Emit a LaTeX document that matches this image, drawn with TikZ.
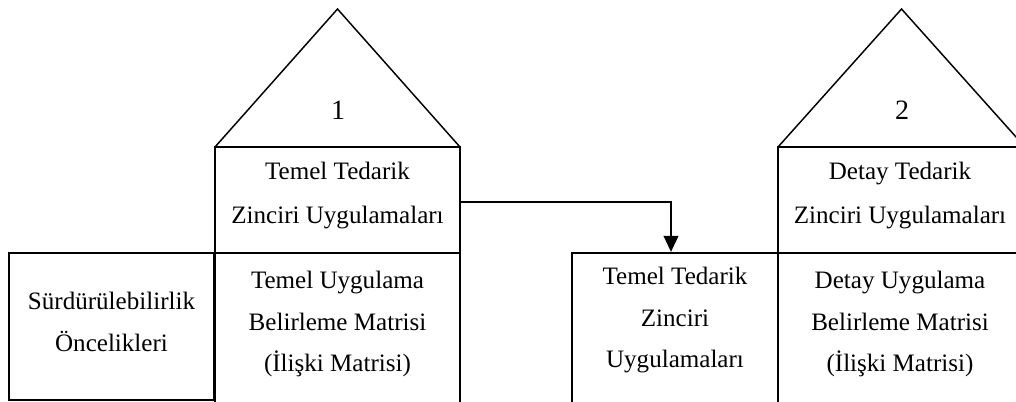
\documentclass[tikz,border=0pt]{standalone}
\usepackage{fontspec}
\setmainfont{Liberation Serif}
\usetikzlibrary{arrows.meta}
\begin{document}
\begin{tikzpicture}[x=0.75pt,y=-0.75pt,
  boxline/.style={draw=black,line width=1.7pt,rectangle,inner sep=0pt},
  roofline/.style={draw=black,line width=1.1pt,line join=miter},
  txt/.style={align=center,font=\fontsize{18.8}{31}\selectfont,inner sep=0pt},
  toptxt/.style={align=center,font=\fontsize{18.8}{33}\selectfont,inner sep=0pt},
  numtxt/.style={font=\fontsize{21}{24}\selectfont,inner sep=0pt},
  flow/.style={draw=black,line width=1.4pt,-{Triangle[length=12pt,width=11pt]}}]
\useasboundingbox (0,0) rectangle (1016,401);
\clip (0,0) rectangle (1016,401);

% left house: roof, upper room and matrix
\coordinate (r1l) at (215,147);
\coordinate (r1r) at (460,147);
\coordinate (r1a) at (337.5,9);
\draw[roofline] (r1l) -- (r1a) -- (r1r);
\node[numtxt] (n1) at (338,110) {1};
\node[boxline,minimum width=245*0.75pt,minimum height=106*0.75pt] (top1) at (337.5,200) {};
\node[toptxt] (top1t) at (337.5,195) {Temel Tedarik\\Zinciri Uygulamaları};
\node[boxline,minimum width=245*0.75pt,minimum height=170*0.75pt] (mat1) at (337.5,338) {};
\node[txt] (mat1t) at (337.5,324) {Temel Uygulama\\Belirleme Matrisi\\(İlişki Matrisi)};

% priorities on the left wall
\node[boxline,minimum width=205*0.75pt,minimum height=147*0.75pt] (prio) at (111.5,326.5) {};
\node[txt] (priot) at (111.5,322) {Sürdürülebilirlik\\Öncelikleri};

% input of the second house
\node[boxline,minimum width=206*0.75pt,minimum height=170*0.75pt] (tem2) at (675,338) {};
\node[txt] (tem2t) at (675,320) {Temel Tedarik\\Zinciri\\Uygulamaları};

% right house
\coordinate (r2l) at (778,147);
\coordinate (r2r) at (1025,147);
\coordinate (r2a) at (901.5,9);
\draw[roofline] (r2l) -- (r2a) -- (r2r);
\node[numtxt] (n2) at (902,110) {2};
\node[boxline,minimum width=247*0.75pt,minimum height=106*0.75pt] (top2) at (901.5,200) {};
\node[toptxt] (top2t) at (900,195) {Detay Tedarik\\Zinciri Uygulamaları};
\node[boxline,minimum width=247*0.75pt,minimum height=170*0.75pt] (mat2) at (901.5,338) {};
\node[txt] (mat2t) at (900,324) {Detay Uygulama\\Belirleme Matrisi\\(İlişki Matrisi)};

% practices carried over from house 1 to house 2
\draw[flow] ([yshift=-1.5pt]top1.east) -| ([xshift=-3pt]tem2.north);
\end{tikzpicture}
\end{document}
